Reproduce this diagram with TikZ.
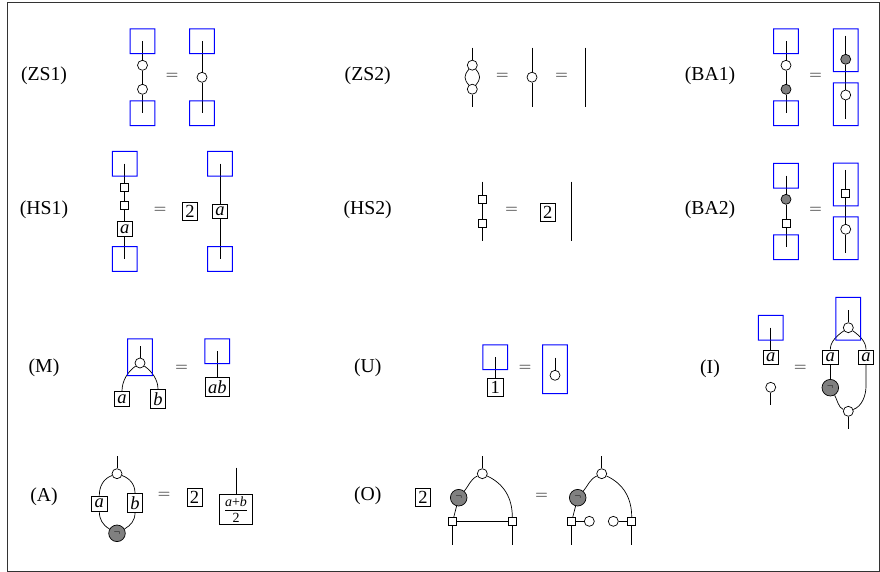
\documentclass[tikz,border=0pt]{standalone}
\usepackage{fontspec}
\setmainfont{Liberation Serif}
\usetikzlibrary{positioning}
\newcommand{\nsign}{\fontsize{10}{10}\selectfont$\neg$}

\begin{document}
\begin{tikzpicture}[x=1pt, y=-1pt, on grid, line width=0.7pt,
  lab/.style = {font=\fontsize{19.7}{20}\selectfont},
  eqs/.style = {font=\fontsize{19}{20}\selectfont},
  wdot/.style = {draw, circle, fill=white, minimum size=10pt, inner sep=0pt},
  gdot/.style = {draw, circle, fill=gray, minimum size=10pt, inner sep=0pt},
  gneg/.style = {draw, circle, fill=gray, minimum size=16.6pt, inner sep=0pt},
  ssq/.style = {draw, fill=white, minimum size=8pt, inner sep=0pt},
  tag/.style = {draw, fill=white, inner sep=3pt, font=\fontsize{18.5}{19}\selectfont},
  blu/.style = {minimum width=24pt, minimum height=24pt, inner sep=0pt}]
\useasboundingbox (0,0) rectangle (880,572);
\draw[line width=0.8pt, black!80] (7.3,2.8) rectangle (879.4,571);

% ZS1
\node[lab] (zs1) at (44,76) {(ZS1)};
\node[blu] (z1a) at (142.5,41.3) {};
\node[wdot] (z1b) [below=24pt of z1a] {};
\node[wdot] (z1c) [below=24pt of z1b] {};
\node[blu] (z1d) [below=24pt of z1c] {};
\node[eqs] (z1e) at (172,76) {$=$};
\node[blu] (z1f) at (202,41.3) {};
\node[wdot] (z1g) [below=36pt of z1f] {};
\node[blu] (z1h) [below=36pt of z1g] {};
\draw (z1a.center) -- (z1b);
\draw (z1b) -- (z1c);
\draw (z1c) -- (z1d.center);
\draw (z1f.center) -- (z1g);
\draw (z1g) -- (z1h.center);

% ZS2
\node[lab] (zs2) at (367.7,76) {(ZS2)};
\node[wdot] (z2b) at (472.3,65.2) {};
\coordinate[above=17.5pt of z2b] (z2a);
\node[wdot] (z2c) [below=24pt of z2b] {};
\coordinate[below=17.5pt of z2c] (z2d);
\node[eqs] (z2e) at (502.3,76) {$=$};
\node[wdot] (z2g) at (532,77.2) {};
\coordinate[above=29.5pt of z2g] (z2f);
\coordinate[below=29.5pt of z2g] (z2h);
\node[eqs] (z2i) at (561.7,76) {$=$};
\coordinate (z2j) at (585.7,47.7);
\coordinate (z2k) at (585.7,106.7);
\draw (z2a) -- (z2b);
\draw (z2b) to[out=-130,in=130,looseness=1.3] (z2c);
\draw (z2b) to[out=-50,in=50,looseness=1.3] (z2c);
\draw (z2c) -- (z2d);
\draw (z2f) -- (z2g);
\draw (z2g) -- (z2h);
\draw (z2j) -- (z2k);

% BA1
\node[lab] (ba1) at (710,76) {(BA1)};
\node[blu] (b1a) at (786,41.3) {};
\node[wdot] (b1b) [below=24pt of b1a] {};
\node[gdot] (b1c) [below=24pt of b1b] {};
\node[blu] (b1d) [below=24pt of b1c] {};
\node[eqs] (b1e) at (815.7,76) {$=$};
\node[blu, minimum height=42pt] (b1f) at (845.7,50.3) {};
\node[blu, minimum height=42pt] (b1g) [below=54pt of b1f] {};
\node[gdot] (b1i) at (845.7,59.3) {};
\coordinate[above=23.6pt of b1i] (b1h);
\node[wdot] (b1j) [below=35.7pt of b1i] {};
\coordinate[below=23.7pt of b1j] (b1k);
\draw (b1a.center) -- (b1b);
\draw (b1b) -- (b1c);
\draw (b1c) -- (b1d.center);
\draw (b1h) -- (b1i);
\draw (b1i) -- (b1j);
\draw (b1j) -- (b1k);

% HS1
\node[lab] (hs1) at (44,210) {(HS1)};
\node[blu] (h1a) at (124.7,163.7) {};
\node[ssq] (h1b) [below=24pt of h1a] {};
\node[ssq] (h1c) [below=17.6pt of h1b] {};
\node[tag] (h1d) [below=23.7pt of h1c] {\textit{a}};
\node[blu] (h1e) [below=30pt of h1d] {};
\node[eqs] (h1f) at (160,210) {$=$};
\node[tag] (h1g) at (190,211.5) {2};
\node[blu] (h1h) at (220,163.7) {};
\node[tag] (h1i) [below=47.6pt of h1h] {\textit{a}};
\node[blu] (h1j) [below=47.7pt of h1i] {};
\draw (h1a.center) -- (h1b);
\draw (h1b) -- (h1c);
\draw (h1c) -- (h1d);
\draw (h1d) -- (h1e.center);
\draw (h1h.center) -- (h1i);
\draw (h1i) -- (h1j.center);

% HS2
\node[lab] (hs2) at (367.7,210) {(HS2)};
\node[ssq] (h2b) at (482,199.3) {};
\coordinate[above=17.6pt of h2b] (h2a);
\node[ssq] (h2c) [below=24pt of h2b] {};
\coordinate[below=17.4pt of h2c] (h2d);
\node[eqs] (h2e) at (511.7,210) {$=$};
\node[tag] (h2f) at (547.7,212.3) {2};
\coordinate (h2g) at (571.3,181.7);
\coordinate (h2h) at (571.3,240.7);
\draw (h2a) -- (h2b);
\draw (h2b) -- (h2c);
\draw (h2c) -- (h2d);
\draw (h2g) -- (h2h);

% BA2
\node[lab] (ba2) at (710,210) {(BA2)};
\node[blu] (b2a) at (786,175.7) {};
\node[gdot] (b2b) [below=23.6pt of b2a] {};
\node[ssq] (b2c) [below=24pt of b2b] {};
\node[blu] (b2d) [below=24pt of b2c] {};
\node[eqs] (b2e) at (815.7,210) {$=$};
\node[blu, minimum height=42pt] (b2f) at (845.7,184.5) {};
\node[blu, minimum height=42pt] (b2g) [below=53.8pt of b2f] {};
\node[ssq] (b2i) at (845.7,193.7) {};
\coordinate[above=23.7pt of b2i] (b2h);
\node[wdot] (b2j) [below=35.6pt of b2i] {};
\coordinate[below=23.4pt of b2j] (b2k);
\draw (b2a.center) -- (b2b);
\draw (b2b) -- (b2c);
\draw (b2c) -- (b2d.center);
\draw (b2h) -- (b2i);
\draw (b2i) -- (b2j);
\draw (b2j) -- (b2k);

% M
\node[lab] (mm) at (44,368) {(M)};
\node[blu, minimum height=36pt] (m1) at (140,357.3) {};
\node[wdot] (m3) at (140,363) {};
\coordinate[above=17pt of m3] (m2);
\node[tag] (m4) at (122,399) {\textit{a}};
\node[tag] (m5) at (158,399) {\textit{b}};
\node[eqs] (m6) at (181.7,368) {$=$};
\node[blu] (m7) at (217.3,351.3) {};
\node[tag] (m8) [below=36pt of m7] {\textit{ab}};
\draw (m2) -- (m3);
\draw (m3) to[out=215,in=90,looseness=0.9] (m4);
\draw (m3) to[out=-35,in=90,looseness=0.9] (m5);
\draw (m7.center) -- (m8);

% U
\node[lab] (uu) at (367.7,368) {(U)};
\node[blu] (u1) at (495.3,357.3) {};
\node[tag] (u2) [below=30pt of u1] {1};
\node[eqs] (u3) at (525,368) {$=$};
\node[blu, minimum height=48pt] (u4) at (555,369.3) {};
\node[wdot] (u6) at (555,375.3) {};
\coordinate[above=17.6pt of u6] (u5);
\draw (u1.center) -- (u2);
\draw (u5) -- (u6);

% I
\node[lab] (ii) at (710,368.3) {(I)};
\node[blu] (i1) at (770.7,327.7) {};
\node[tag] (i2) [below=29.6pt of i1] {\textit{a}};
\node[wdot] (i3) [below=30pt of i2] {};
\coordinate[below=17.4pt of i3] (i4);
\node[eqs] (i5) at (800.3,368) {$=$};
\node[blu, minimum height=42pt] (i6) at (848.3,318.7) {};
\node[wdot] (i8) at (848.3,327.7) {};
\coordinate[above=17.7pt of i8] (i7);
\node[tag] (i9) at (830.3,357.3) {\textit{a}};
\node[tag] (i10) at (866,357.3) {\textit{a}};
\node[gneg] (i11) [below=30.4pt of i9] {\nsign};
\node[wdot] (i12) at (848.3,411.3) {};
\coordinate[below=17.4pt of i12] (i13);
\coordinate (i14) at (866,386);
\draw (i1.center) -- (i2);
\draw (i3) -- (i4);
\draw (i7) -- (i8);
\draw (i12) -- (i13);
\draw (i8) to[out=215,in=90,looseness=0.9] (i9);
\draw (i8) to[out=-35,in=90,looseness=0.9] (i10);
\draw (i9) -- (i11);
\draw (i11) to[out=-60,in=160,looseness=0.8] (i12);
\draw (i10) -- (i14) to[out=-90,in=20,looseness=0.9] (i12);

% A
\node[lab] (aa) at (44,496.7) {(A)};
\node[wdot] (a2) at (117,473.7) {};
\coordinate[above=17.7pt of a2] (a1);
\node[tag] (a3) at (99.3,503.5) {\textit{a}};
\node[tag] (a4) at (135,503) {\textit{b}};
\node[gneg] (a5) at (117,533.3) {\nsign};
\node[eqs] (a6) at (164,495.7) {$=$};
\node[tag] (a7) at (194.5,497.3) {2};
\node[tag, inner sep=2pt, minimum width=33.3pt, minimum height=29pt] (a9) at (236,509.5) {$\frac{\hbox{\raisebox{1.5pt}{\fontsize{14}{14}\selectfont\textit{a}+\textit{b}}}}{\hbox{\raisebox{-1.5pt}{\fontsize{14}{14}\selectfont 2}}}$};
\coordinate[above=41.8pt of a9] (a8);
\draw (a1) -- (a2);
\draw (a2) to[out=200,in=90] (a3);
\draw (a2) to[out=-20,in=90] (a4);
\draw (a3) to[out=-90,in=150] (a5);
\draw (a4) to[out=-90,in=30] (a5);
\draw (a8) -- (a9);

% O
\node[lab] (oo) at (367.7,496) {(O)};
\node[tag] (o1) at (423,497.3) {2};
\node[wdot] (o3) at (482.3,473.7) {};
\coordinate[above=17.7pt of o3] (o2);
\node[gneg] (o4) at (458.7,497.7) {\nsign};
\node[ssq] (o5) at (452.7,521.3) {};
\node[ssq] (o6) at (512.3,521.3) {};
\coordinate[below=23.7pt of o5] (o7);
\coordinate[below=23.7pt of o6] (o8);
\node[eqs] (o9) at (541.7,496.3) {$=$};
\node[wdot] (o11) at (601.7,473.7) {};
\coordinate[above=17.7pt of o11] (o10);
\node[gneg] (o12) at (577.7,497.7) {\nsign};
\node[ssq] (o13) at (571.7,521.3) {};
\node[wdot] (o14) [right=17.6pt of o13] {};
\node[wdot] (o15) [right=24pt of o14] {};
\node[ssq] (o16) [right=18.4pt of o15] {};
\coordinate[below=23.7pt of o13] (o17);
\coordinate[below=23.7pt of o16] (o18);
\draw (o2) -- (o3);
\draw (o3) to[out=205,in=50] (o4);
\draw (o3) to[out=-25,in=90] (o6);
\draw (o4) -- (o5);
\draw (o5) -- (o6);
\draw (o5) -- (o7);
\draw (o6) -- (o8);
\draw (o10) -- (o11);
\draw (o11) to[out=205,in=50] (o12);
\draw (o11) to[out=-25,in=90] (o16);
\draw (o12) -- (o13);
\draw (o13) -- (o14);
\draw (o15) -- (o16);
\draw (o13) -- (o17);
\draw (o16) -- (o18);

% blue frames
\foreach \bx in {z1a,z1d,z1f,z1h,b1a,b1d,b1f,b1g,h1a,h1e,h1h,h1j,b2a,b2d,b2f,b2g,m1,m7,u1,u4,i1,i6}
  \fill[blue, even odd rule] ([shift={(-.5pt,-.5pt)}]\bx.south west) rectangle ([shift={(.5pt,.5pt)}]\bx.north east)
    ([shift={(.5pt,.5pt)}]\bx.south west) rectangle ([shift={(-.5pt,-.5pt)}]\bx.north east);
\end{tikzpicture}
\end{document}
